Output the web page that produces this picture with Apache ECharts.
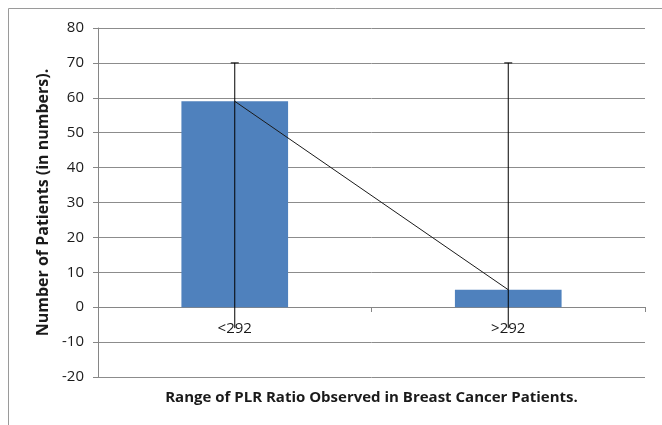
<!DOCTYPE html>
<html>
<head>
<meta charset="utf-8">
<script src="https://cdn.jsdelivr.net/npm/echarts@6/dist/echarts.min.js"></script>
<style>
  html, body { margin: 0; padding: 0; background: #fff; }
  #chart { width: 662px; height: 425px; }
</style>
</head>
<body>
<div id="chart"></div>
<script>
// data
const categories = ['<292', '>292'];
const patients = [59, 5];
const errLow = [-6, -6];
const errHigh = [70, 70];

const FONT = 'Open Sans';

let myChart = echarts.init(document.getElementById('chart'));

let option = {
  animation: false,
  backgroundColor: '#fff',
  textStyle: { fontFamily: FONT },
  graphic: [
    {
      // outer chart frame (left + top edges visible)
      type: 'polyline',
      shape: { points: [[8.5, 425], [8.5, 8.5], [662, 8.5]] },
      style: { stroke: '#9a9a9a', lineWidth: 1, fill: null },
      silent: true
    }
  ],
  grid: { left: 98, right: 17, top: 28, bottom: 48, outerBoundsMode: 'none', containLabel: false },
  xAxis: {
    type: 'category',
    data: categories,
    // sits on the zero line: 20 of the 100 units above the grid bottom
    offset: -70,
    name: 'Range of PLR Ratio Observed in Breast Cancer Patients.',
    nameLocation: 'middle',
    nameGap: 83,
    nameTextStyle: { fontFamily: FONT, fontWeight: 'bold', fontSize: 15, color: '#1a1a1a' },
    axisLine: { onZero: false, lineStyle: { color: '#868686', width: 1 } },
    axisTick: { show: true, length: 5, lineStyle: { color: '#868686' } },
    axisLabel: { fontFamily: FONT, fontSize: 15, color: '#1a1a1a', margin: 14 },
    splitLine: { show: false }
  },
  yAxis: {
    type: 'value',
    min: -20,
    max: 80,
    interval: 10,
    name: 'Number of Patients (in numbers).',
    nameLocation: 'middle',
    nameRotate: 90,
    nameGap: 46,
    nameTextStyle: { fontFamily: FONT, fontWeight: 'bold', fontSize: 16, color: '#1a1a1a' },
    axisLine: { show: true, lineStyle: { color: '#868686', width: 1 } },
    axisTick: { show: true, length: 5, lineStyle: { color: '#868686' } },
    axisLabel: { fontFamily: FONT, fontSize: 15, color: '#1a1a1a', margin: 14 },
    splitLine: { show: true, lineStyle: { color: '#8c8c8c', width: 1 } }
  },
  series: [
    {
      name: 'patients',
      type: 'bar',
      data: patients,
      barWidth: '39%',
      itemStyle: { color: '#4F81BD' },
      z: 2
    },
    {
      name: 'trend',
      type: 'line',
      data: patients,
      symbol: 'none',
      lineStyle: { color: '#1a1a1a', width: 1 },
      z: 3
    },
    {
      name: 'range',
      type: 'custom',
      data: categories.map((c, i) => [i, errLow[i], errHigh[i]]),
      encode: { x: 0, y: [1, 2] },
      z: 4,
      renderItem: function (params, api) {
        let idx = api.value(0);
        let lo = api.coord([idx, api.value(1)]);
        let hi = api.coord([idx, api.value(2)]);
        let style = { stroke: '#000', lineWidth: 1 };
        return {
          type: 'group',
          children: [
            { type: 'line', shape: { x1: lo[0], y1: lo[1], x2: hi[0], y2: hi[1] }, style: style },
            { type: 'line', shape: { x1: hi[0] - 4, y1: hi[1], x2: hi[0] + 4, y2: hi[1] }, style: style }
          ]
        };
      }
    }
  ]
};

myChart.setOption(option);
</script>
</body>
</html>
